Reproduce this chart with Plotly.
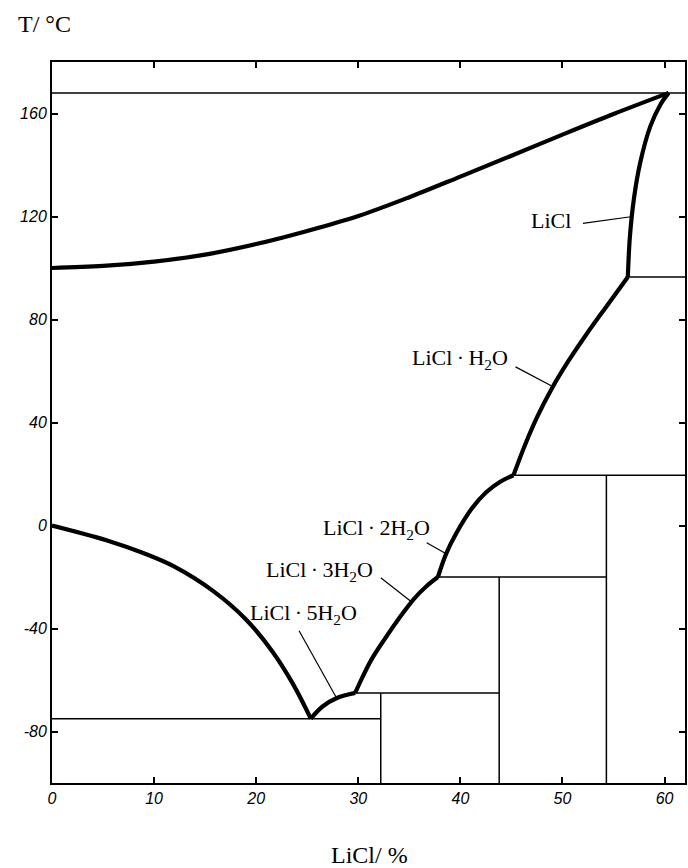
import plotly.graph_objects as go

# ---- axis ticks ----
x_ticks = [0, 10, 20, 30, 40, 50, 60]
y_ticks = [-80, -40, 0, 40, 80, 120, 160]

# ---- phase boundary curves (LiCl wt%, T/°C) ----
boil_x = [0, 5, 10, 15, 20, 25, 30, 35, 40, 45, 50, 55, 60.4]
boil_T = [100, 100.8, 102.5, 105.2, 109.3, 114.4, 120.2, 127.5, 135.5, 143.6, 151.8, 159.8, 168]

ice_x = [0, 5.4, 9, 11.9, 15.8, 19.0, 21.6, 23.6, 25.35]
ice_T = [0, -5.8, -10.8, -15.8, -25.5, -36.5, -49, -61.5, -75]

h5_x = [25.35, 26.5, 27.9, 29.7]
h5_T = [-75, -70.3, -67, -65]

h3_x = [29.7, 30.4, 31.3, 32.6, 34.0, 35.5, 36.7, 37.8]
h3_T = [-65, -59, -52, -44, -36, -28.3, -23.5, -20]

h2_x = [37.8, 38.6, 39.6, 41.1, 42.5, 43.9, 45.2]
h2_T = [-20, -11, -3, 6.5, 12.8, 17, 19.5]

h1_x = [45.2, 46.3, 47.5, 49.0, 50.6, 52.3, 54.2, 56.4]
h1_T = [19.5, 31, 42, 53.5, 64, 74, 84.5, 96.5]

anh_x = [56.4, 56.6, 57.0, 57.6, 58.6, 59.6, 60.4]
anh_T = [96.5, 112, 127, 140.7, 155, 163.5, 168]

# ---- thin tie lines: (x0, x1, T) and verticals (x, T0, T1) ----
h_lines = [
    (0, 62, 168),
    (56.4, 62, 96.5),
    (45.2, 62, 19.5),
    (37.8, 54.3, -20),
    (29.7, 43.8, -65),
    (0, 32.2, -75),
]
v_lines = [
    (32.2, -65, -100),
    (43.8, -20, -100),
    (54.3, 19.5, -100),
]

# ---- labels and pointers ----
labels = ["LiCl", "LiCl\u2009·\u2009H<sub>2</sub>O", "LiCl\u2009·\u20092H<sub>2</sub>O",
          "LiCl\u2009·\u20093H<sub>2</sub>O", "LiCl\u2009·\u20095H<sub>2</sub>O"]
label_x = [48.9, 40.0, 31.8, 26.2, 24.6]
label_T = [118.3, 64.7, -1.3, -17.6, -34.3]
ptr_x0 = [52.0, 45.4, 36.7, 32.2, 24.2]
ptr_T0 = [117.3, 61.6, -6.7, -20.3, -40.9]
ptr_x1 = [56.7, 48.9, 38.6, 35.2, 27.9]
ptr_T1 = [119.9, 54.3, -11.0, -29.6, -67.2]

fig = go.Figure()

thick = dict(color="black", width=4.2)
for xs, ts in [(boil_x, boil_T), (ice_x, ice_T), (h5_x, h5_T), (h3_x, h3_T),
               (h2_x, h2_T), (h1_x, h1_T), (anh_x, anh_T)]:
    fig.add_trace(go.Scatter(x=xs, y=ts, mode="lines",
                             line=dict(shape="spline", smoothing=1.0, **thick),
                             hoverinfo="skip", showlegend=False))

thin = dict(color="black", width=1.5)
for x0, x1, t in h_lines:
    fig.add_trace(go.Scatter(x=[x0, x1], y=[t, t], mode="lines", line=thin,
                             hoverinfo="skip", showlegend=False))
for xv, t0, t1 in v_lines:
    fig.add_trace(go.Scatter(x=[xv, xv], y=[t0, t1], mode="lines", line=thin,
                             hoverinfo="skip", showlegend=False))

for a, b, c, d in zip(ptr_x0, ptr_T0, ptr_x1, ptr_T1):
    fig.add_trace(go.Scatter(x=[a, c], y=[b, d], mode="lines",
                             line=dict(color="black", width=1.2),
                             hoverinfo="skip", showlegend=False))

serif = "Liberation Serif, Times New Roman, serif"
for txt, lx, lt in zip(labels, label_x, label_T):
    fig.add_annotation(x=lx, y=lt, xref="x", yref="y", text=txt, showarrow=False,
                       xanchor="center", yanchor="middle",
                       font=dict(family=serif, size=22, color="black"))

fig.add_annotation(x=-0.0118, y=1.0527, xref="paper", yref="paper", text="T/ °C",
                   showarrow=False, xanchor="center", yanchor="middle",
                   font=dict(family=serif, size=24, color="black"))
fig.add_annotation(x=0.5008, y=-0.0999, xref="paper", yref="paper", text="LiCl/ %",
                   showarrow=False, xanchor="center", yanchor="middle",
                   font=dict(family=serif, size=24, color="black"))

tickfont = dict(family="Liberation Sans, Arial, sans-serif", size=16, color="black",
                style="italic")
fig.update_xaxes(range=[0, 62], tickvals=x_ticks, ticktext=[str(v) for v in x_ticks],
                 showgrid=False, zeroline=False, showline=True, linecolor="black",
                 linewidth=2, mirror="ticks", ticks="inside", ticklen=6, tickwidth=1.5,
                 tickcolor="black", tickfont=tickfont)
fig.update_yaxes(range=[-100, 180], tickvals=y_ticks, ticktext=[str(v) for v in y_ticks],
                 showgrid=False, zeroline=False, showline=True, linecolor="black",
                 linewidth=2, mirror="ticks", ticks="inside", ticklen=6, tickwidth=1.5,
                 tickcolor="black", tickfont=tickfont)

fig.update_layout(width=688, height=868, margin=dict(l=52, r=1, t=62, b=85),
                  plot_bgcolor="white", paper_bgcolor="white", showlegend=False)

fig.write_html("out.html")
